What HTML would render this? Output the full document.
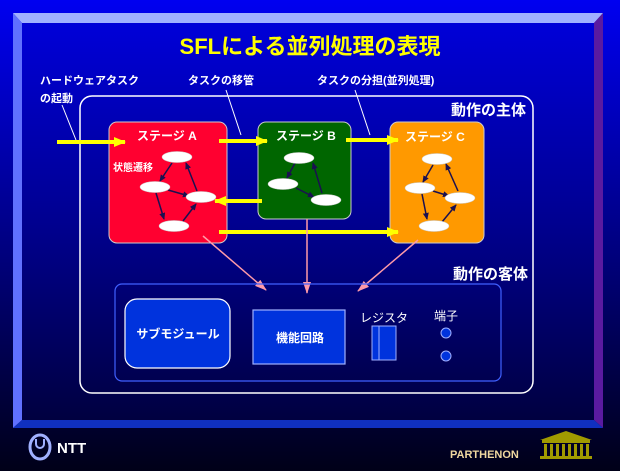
<!DOCTYPE html>
<html><head><meta charset="utf-8"><style>
html,body{margin:0;padding:0;background:#000018;}
svg{display:block;font-family:"Liberation Sans","Noto Sans CJK JP",sans-serif;}
</style></head><body>
<svg width="620" height="471" viewBox="0 0 620 471" xmlns="http://www.w3.org/2000/svg">
<defs>
<linearGradient id="bg" x1="0" y1="0" x2="0" y2="1"><stop offset="0" stop-color="#0000f0"/><stop offset="0.6" stop-color="#000070"/><stop offset="1" stop-color="#000018"/></linearGradient>
<linearGradient id="pn" x1="0" y1="0" x2="0" y2="1"><stop offset="0" stop-color="#0000d8"/><stop offset="0.5" stop-color="#000090"/><stop offset="1" stop-color="#000040"/></linearGradient>
<marker id="ya" markerWidth="12" markerHeight="10" refX="11" refY="5" orient="auto" markerUnits="userSpaceOnUse"><path d="M0,0 L12,5 L0,10 z" fill="#ffff00"/></marker>
<marker id="pa" markerWidth="12" markerHeight="10" refX="11" refY="5" orient="auto" markerUnits="userSpaceOnUse"><path d="M0,1 L12,5 L0,9 z" fill="#ff9aa8"/></marker>
<marker id="da" markerWidth="7" markerHeight="6" refX="6" refY="3" orient="auto" markerUnits="userSpaceOnUse"><path d="M0,0 L7,3 L0,6 z" fill="#1a1050"/></marker>
</defs>
<rect width="620" height="471" fill="url(#bg)"/>
<polygon points="13,13 603,13 594,23 22,23" fill="#a0b0ff"/>
<polygon points="13,13 22,23 22,420 13,428" fill="#6070ff"/>
<polygon points="603,13 603,428 594,420 594,23" fill="#5a1aa0"/>
<polygon points="13,428 22,420 594,420 603,428" fill="#1030c0"/>
<rect x="22" y="23" width="572" height="397" fill="url(#pn)"/>
<text x="310" y="54" text-anchor="middle" font-size="22" font-weight="bold" fill="#ffff00">SFLによる並列処理の表現</text>
<g fill="#fff" font-size="11" font-weight="bold">
<text x="40" y="84">ハードウェアタスク</text>
<text x="40" y="102">の起動</text>
<text x="188" y="84">タスクの移管</text>
<text x="317" y="84">タスクの分担(並列処理)</text>
</g>
<g stroke="#fff" stroke-width="1">
<line x1="62" y1="105" x2="76" y2="140"/>
<line x1="226" y1="90" x2="241" y2="135"/>
<line x1="355" y1="90" x2="370" y2="135"/>
</g>
<rect x="80" y="96" width="453" height="297" rx="12" fill="none" stroke="#fff" stroke-width="1.5"/>
<text x="526" y="115" text-anchor="end" font-size="15" font-weight="bold" fill="#fff">動作の主体</text>
<rect x="109" y="122" width="118" height="121" rx="8" fill="#ff0030" stroke="#ccc"/>
<rect x="258" y="122" width="93" height="97" rx="8" fill="#006600" stroke="#ccc"/>
<rect x="390" y="122" width="94" height="121" rx="8" fill="#ff9900" stroke="#ccc"/>
<g fill="#fff" font-size="12" font-weight="bold">
<text x="113" y="171" font-size="10">状態遷移</text>
<text x="137" y="140">ステージ A</text>
<text x="276" y="140">ステージ B</text>
<text x="405" y="141">ステージ C</text>
</g>
<g stroke="#1a1050" stroke-width="1.5" marker-end="url(#da)">
<line x1="172" y1="163" x2="160" y2="181"/>
<line x1="168" y1="190" x2="189" y2="196"/>
<line x1="156" y1="193" x2="164" y2="219"/>
<line x1="183" y1="221" x2="196" y2="204"/>
<line x1="197" y1="191" x2="186" y2="163"/>
<line x1="295" y1="163" x2="287" y2="178"/>
<line x1="296" y1="188" x2="314" y2="197"/>
<line x1="322" y1="193" x2="313" y2="163"/>
<line x1="433" y1="165" x2="423" y2="182"/>
<line x1="433" y1="191" x2="449" y2="196"/>
<line x1="422" y1="194" x2="427" y2="219"/>
<line x1="442" y1="222" x2="456" y2="205"/>
<line x1="458" y1="191" x2="446" y2="164"/>
</g>
<g fill="#fff" stroke="#ccc" stroke-width="0.5">
<ellipse cx="177" cy="157" rx="15" ry="5.5"/><ellipse cx="155" cy="187" rx="15" ry="5.5"/><ellipse cx="201" cy="197" rx="15" ry="5.5"/><ellipse cx="174" cy="226" rx="15" ry="5.5"/>
<ellipse cx="299" cy="158" rx="15" ry="5.5"/><ellipse cx="283" cy="184" rx="15" ry="5.5"/><ellipse cx="326" cy="200" rx="15" ry="5.5"/>
<ellipse cx="437" cy="159" rx="15" ry="5.5"/><ellipse cx="420" cy="188" rx="15" ry="5.5"/><ellipse cx="460" cy="198" rx="15" ry="5.5"/><ellipse cx="434" cy="226" rx="15" ry="5.5"/>
</g>
<g stroke="#ffff00" stroke-width="4" marker-end="url(#ya)">
<line x1="57" y1="142" x2="125" y2="142"/>
<line x1="219" y1="141" x2="267" y2="141"/>
<line x1="346" y1="140" x2="398" y2="140"/>
<line x1="262" y1="201" x2="215" y2="201"/>
<line x1="219" y1="232" x2="398" y2="232"/>
</g>
<g stroke="#ff9aa8" stroke-width="1.5" marker-end="url(#pa)">
<line x1="203" y1="236" x2="266" y2="290"/>
<line x1="307" y1="219" x2="307" y2="293"/>
<line x1="418" y1="240" x2="358" y2="291"/>
</g>
<text x="528" y="279" text-anchor="end" font-size="15" font-weight="bold" fill="#fff">動作の客体</text>
<rect x="115" y="284" width="386" height="97" rx="7" fill="none" stroke="#4060ff" stroke-width="1.2"/>
<rect x="125" y="299" width="105" height="69" rx="12" fill="#0033dd" stroke="#fff" stroke-width="1.2"/>
<text x="178" y="338" text-anchor="middle" font-size="12" font-weight="bold" fill="#fff">サブモジュール</text>
<rect x="253" y="310" width="92" height="54" fill="#0033dd" stroke="#a0b0ff" stroke-width="1.2"/>
<text x="300" y="342" text-anchor="middle" font-size="12" font-weight="bold" fill="#fff">機能回路</text>
<text x="384" y="322" text-anchor="middle" font-size="12" fill="#fff">レジスタ</text>
<rect x="372" y="326" width="24" height="34" fill="#0033dd" stroke="#a0b0ff"/>
<line x1="379" y1="326" x2="379" y2="360" stroke="#a0b0ff"/>
<text x="446" y="320" text-anchor="middle" font-size="12" fill="#fff">端子</text>
<circle cx="446" cy="333" r="5" fill="#0033dd" stroke="#a0b0ff"/>
<circle cx="446" cy="356" r="5" fill="#0033dd" stroke="#a0b0ff"/>
<ellipse cx="40" cy="447" rx="10" ry="12" fill="none" stroke="#a0b0ff" stroke-width="3"/>
<path d="M36,439 v5 a4,4 0 0 0 8,0 v-5" fill="none" stroke="#a0b0ff" stroke-width="2"/>
<text x="57" y="453" font-size="15" font-weight="bold" fill="#fff">NTT</text>
<text x="450" y="458" font-size="11" font-weight="bold" fill="#f0d8a0">PARTHENON</text>
<g fill="#a09a00">
<polygon points="540,440 566,431 592,440"/>
<rect x="542" y="440" width="48" height="3"/>
<rect x="544" y="444" width="3" height="12"/><rect x="550" y="444" width="3" height="12"/><rect x="556" y="444" width="3" height="12"/><rect x="562" y="444" width="3" height="12"/><rect x="568" y="444" width="3" height="12"/><rect x="574" y="444" width="3" height="12"/><rect x="580" y="444" width="3" height="12"/><rect x="586" y="444" width="3" height="12"/>
<rect x="540" y="456" width="52" height="3"/>
</g>
</svg>
</body></html>
